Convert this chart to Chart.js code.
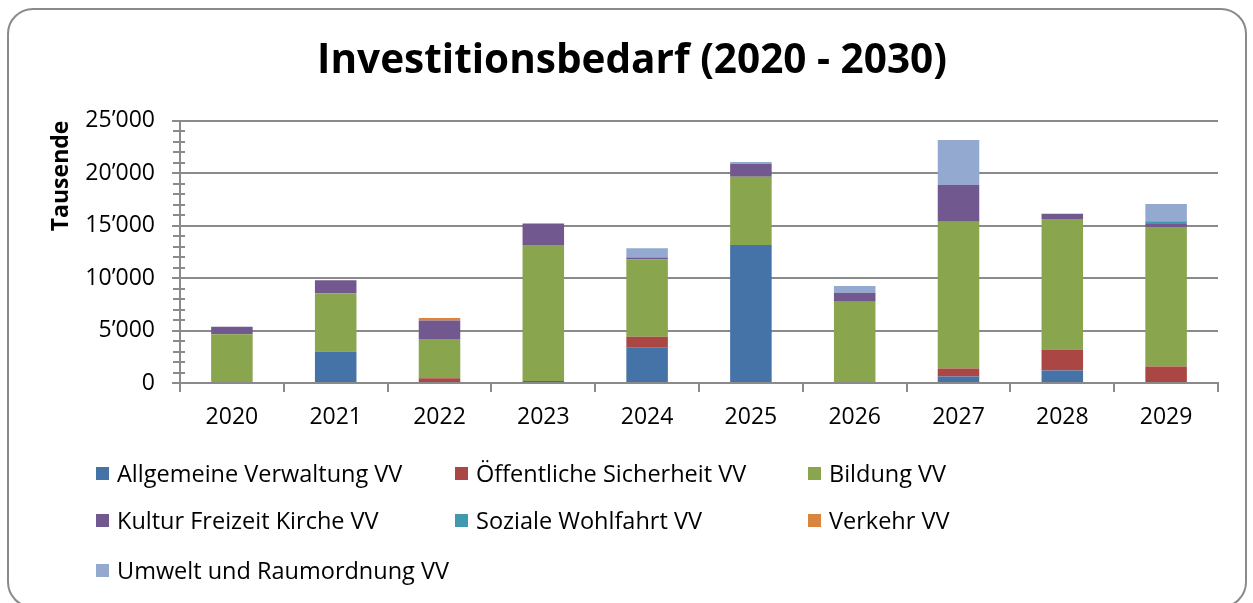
<!DOCTYPE html>
<html>
<head>
<meta charset="utf-8">
<script src="https://cdn.jsdelivr.net/npm/chart.js@4.4.1/dist/chart.umd.min.js"></script>
<style>
  html, body { margin: 0; padding: 0; background: #fff; }
  #wrap { position: relative; width: 1253px; height: 603px; overflow: hidden; }
  #frame { position: absolute; left: 7px; top: 8px; width: 1240px; height: 600px;
           border: 2px solid #8a8a8a; border-radius: 26px; box-sizing: border-box; }
  canvas { position: absolute; left: 0; top: 0; }
  #legend { position: absolute; left: 0; top: 0; width: 1253px; height: 603px; pointer-events: none;
            font-family: "Open Sans", sans-serif; font-size: 23.5px; color: #000; }
  .item { position: absolute; white-space: nowrap; line-height: 28px; }
  .box { position: absolute; width: 13px; height: 13px; left: -21px; top: 8px; }
</style>
</head>
<body>
<div id="wrap">
  <div id="frame"></div>
  <canvas id="chart" width="1253" height="603"></canvas>
  <div id="legend"></div>
</div>
<script>
const YEARS = ['2020', '2021', '2022', '2023', '2024', '2025', '2026', '2027', '2028', '2029']

// values in CHF (displayed in "Tausende")
const ALLGEMEINE_VERWALTUNG = [0, 3000, 0, 0, 3350, 13150, 0, 630, 1200, 0]
const OEFFENTLICHE_SICHERHEIT = [0, 0, 450, 200, 1050, 0, 0, 760, 2000, 1580]
const BILDUNG = [4650, 5550, 3750, 12950, 7400, 6500, 7750, 13970, 12420, 13280]
const KULTUR = [700, 1250, 1750, 2050, 150, 1250, 850, 3520, 500, 290]
const SOZIALE_WOHLFAHRT = [0, 0, 0, 0, 0, 0, 0, 0, 0, 250]
const VERKEHR = [0, 0, 250, 0, 0, 0, 0, 0, 0, 0]
const UMWELT = [0, 0, 0, 0, 900, 150, 650, 4260, 0, 1650]

const Y_TICKS = [0, 5000, 10000, 15000, 20000, 25000]

const SERIES = [
    { label: 'Allgemeine Verwaltung VV', data: ALLGEMEINE_VERWALTUNG, color: '#4572a7' },
    { label: 'Öffentliche Sicherheit VV', data: OEFFENTLICHE_SICHERHEIT, color: '#aa4643' },
    { label: 'Bildung VV', data: BILDUNG, color: '#89a54e' },
    { label: 'Kultur Freizeit Kirche VV', data: KULTUR, color: '#71588f' },
    { label: 'Soziale Wohlfahrt VV', data: SOZIALE_WOHLFAHRT, color: '#4198af' },
    { label: 'Verkehr VV', data: VERKEHR, color: '#db843d' },
    { label: 'Umwelt und Raumordnung VV', data: UMWELT, color: '#93a9cf' },
]

const GRID = '#8a8a8a'

function fmt(v) {
    return String(v).replace(/\B(?=(\d{3})+(?!\d))/g, '’')
}

// small cross ticks every 1000 on the value axis
const minorTicks = {
    id: 'minorTicks',
    afterDraw(chart) {
        const y = chart.scales.y
        const ctx = chart.ctx
        const x = Math.round(y.right) 
        ctx.save()
        ctx.strokeStyle = GRID
        ctx.lineWidth = 2
        for (let v = 1000; v < 25000; v += 1000) {
            if (v % 5000 === 0) continue
            const py = Math.round(y.getPixelForValue(v))
            ctx.beginPath()
            ctx.moveTo(x - 7, py)
            ctx.lineTo(x + 5, py)
            ctx.stroke()
        }
        ctx.restore()
    }
}

const ctx = document.getElementById('chart').getContext('2d')
const chart = new Chart(ctx, {
    type: 'bar',
    plugins: [minorTicks],
    data: {
        labels: YEARS,
        datasets: SERIES.map((s) => ({
            label: s.label,
            data: s.data,
            backgroundColor: s.color,
            borderWidth: 0,
            barPercentage: 0.4,
            categoryPercentage: 1,
        }))
    },
    options: {
        responsive: false,
        animation: false,
        devicePixelRatio: 1,
        layout: { padding: { left: 46, right: 35, top: 0, bottom: 170 } },
        plugins: {
            legend: { display: false },
            tooltip: { enabled: false },
            title: {
                display: true,
                text: 'Investitionsbedarf (2020 - 2030)',
                color: '#000',
                font: { family: 'Open Sans', weight: 'bold', size: 40.5, lineHeight: 1.2 },
                padding: { top: 37, bottom: 35 }
            }
        },
        scales: {
            x: {
                stacked: true,
                afterFit: (s) => { s.height = 50 },
                grid: { offset: true, drawOnChartArea: false, color: GRID, lineWidth: 2, tickLength: 9 },
                border: { display: true, color: GRID, width: 2 },
                ticks: { color: '#000', padding: 12, font: { family: 'Open Sans', size: 23 } }
            },
            y: {
                stacked: true,
                min: 0,
                max: 25000,
                afterFit: (s) => { s.width = 134 },
                afterBuildTicks: (s) => { s.ticks = Y_TICKS.map((v) => ({ value: v })) },
                grid: { color: GRID, lineWidth: 2, tickLength: 8, tickColor: GRID },
                border: { display: true, color: GRID, width: 2 },
                ticks: { color: '#000', padding: 17, font: { family: 'Open Sans', size: 23 }, callback: (v) => fmt(v) },
                title: {
                    display: true,
                    text: 'Tausende',
                    align: 'end',
                    color: '#000',
                    font: { family: 'Open Sans', weight: 'bold', size: 23 },
                    padding: { top: 2, bottom: 0 }
                }
            }
        }
    }
})

// legend in three columns like the original
const LEGEND_COLS = [117, 476, 829]
const LEGEND_ROWS = [459, 506, 556]
const legend = document.getElementById('legend')
chart.data.datasets.forEach((ds, i) => {
    const el = document.createElement('div')
    el.className = 'item'
    el.style.left = LEGEND_COLS[i % 3] + 'px'
    el.style.top = LEGEND_ROWS[Math.floor(i / 3)] + 'px'
    const box = document.createElement('span')
    box.className = 'box'
    box.style.background = ds.backgroundColor
    el.appendChild(box)
    el.appendChild(document.createTextNode(ds.label))
    legend.appendChild(el)
})
</script>
</body>
</html>
